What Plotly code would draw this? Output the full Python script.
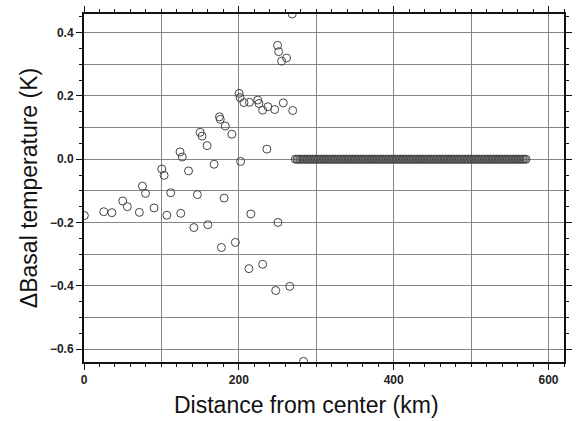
import plotly.graph_objects as go

# Scattered points (distance km, delta basal temperature K)
dist_scatter = [0.5, 25.5, 36, 50, 56, 71.5, 75.5, 79.5, 90.5, 100.5, 103.5, 107, 112,
                124, 127, 125, 135, 142, 146.5, 150, 152.5, 159, 160, 168, 175, 176,
                177.5, 181, 182.5, 191, 195.5, 200.3, 201.5, 202.3, 206.6, 213, 213.7,
                215.5, 224.4, 226, 230.7, 230.7, 236.2, 237.5, 246.3, 247.6, 250, 250.5,
                251.4, 255.2, 257.4, 261.6, 265.8, 269, 269.6, 283.6]
dtemp_scatter = [-0.178, -0.166, -0.169, -0.132, -0.150, -0.168, -0.085, -0.108, -0.154,
                 -0.031, -0.051, -0.177, -0.106, 0.023, 0.007, -0.171, -0.037, -0.216,
                 -0.112, 0.085, 0.073, 0.043, -0.207, -0.016, 0.134, 0.126, -0.279, -0.123,
                 0.105, 0.079, -0.263, 0.208, 0.195, -0.007, 0.179, -0.346, 0.180, -0.173,
                 0.187, 0.176, 0.155, -0.332, 0.032, 0.166, 0.157, -0.415, 0.36, -0.200,
                 0.34, 0.31, 0.178, 0.32, -0.402, 0.459, 0.154, -0.639]

# Outer points with zero change
dist_zero = [273, 275, 277, 279, 281, 283, 285, 287, 289, 291, 293, 295, 297, 299, 301,
             303, 305, 307, 309, 311, 313, 315, 317, 319, 321, 323, 325, 327, 329, 331,
             333, 335, 337, 339, 341, 343, 345, 347, 349, 351, 353, 355, 357, 359, 361,
             363, 365, 367, 369, 371, 373, 375, 377, 379, 381, 383, 385, 387, 389, 391,
             393, 395, 397, 399, 401, 403, 405, 407, 409, 411, 413, 415, 417, 419, 421,
             423, 425, 427, 429, 431, 433, 435, 437, 439, 441, 443, 445, 447, 449, 451,
             453, 455, 457, 459, 461, 463, 465, 467, 469, 471, 473, 475, 477, 479, 481,
             483, 485, 487, 489, 491, 493, 495, 497, 499, 501, 503, 505, 507, 509, 511,
             513, 515, 517, 519, 521, 523, 525, 527, 529, 531, 533, 535, 537, 539, 541,
             543, 545, 547, 549, 551, 553, 555, 557, 559, 561, 563, 565, 567, 569, 571]
dtemp_zero = [0.0] * len(dist_zero)

x_range = [0, 620]
y_range = [-0.641, 0.459]

marker = dict(symbol="circle-open", size=8, color="#454545", line=dict(width=1))

fig = go.Figure()
# invisible trace to create gridline overlay axes
fig.add_trace(go.Scatter(x=[None], y=[None], xaxis="x2", yaxis="y2",
                         mode="markers", showlegend=False, hoverinfo="skip"))
fig.add_trace(go.Scatter(x=dist_scatter + dist_zero, y=dtemp_scatter + dtemp_zero,
                         mode="markers", marker=marker, showlegend=False))

tickfont = dict(family="Liberation Sans", size=12, color="#222", weight="bold")
fig.update_layout(
    width=578, height=421,
    margin=dict(l=84, r=6, t=14, b=59),
    paper_bgcolor="white", plot_bgcolor="white",
    xaxis=dict(range=x_range, dtick=200, tick0=0, ticks="outside", ticklen=6,
               tickwidth=1.2, tickcolor="#111", showgrid=False, zeroline=False,
               showline=True, linecolor="#111", linewidth=2, mirror="ticks",
               tickfont=tickfont,
               minor=dict(dtick=20, ticks="outside", ticklen=3, tickcolor="#111",
                          tickwidth=1, showgrid=False)),
    yaxis=dict(range=y_range, dtick=0.2, tick0=0, ticks="outside", ticklen=6,
               tickwidth=1.2, tickcolor="#111", showgrid=False, zeroline=False,
               showline=True, linecolor="#111", linewidth=2, mirror="ticks",
               tickformat=".1f", tickfont=tickfont,
               minor=dict(dtick=0.05, ticks="outside", ticklen=3, tickcolor="#111",
                          tickwidth=1, showgrid=False),
               title=dict(text="ΔBasal temperature (K)", standoff=6,
                          font=dict(family="Liberation Sans", size=23, color="#111"))),
    xaxis2=dict(range=x_range, overlaying="x", dtick=100, tick0=0, showgrid=True,
                gridcolor="#858585", gridwidth=1.3, showticklabels=False, ticks="",
                zeroline=False, showline=False, side="bottom"),
    yaxis2=dict(range=y_range, overlaying="y", dtick=0.1, tick0=0, showgrid=True,
                gridcolor="#858585", gridwidth=1.3, showticklabels=False, ticks="",
                zeroline=False, showline=False, side="left"),
    annotations=[dict(text="Distance from center (km)", xref="paper", yref="paper",
                      x=0.463, y=-0.1236, xanchor="center", yanchor="middle",
                      showarrow=False,
                      font=dict(family="Liberation Sans", size=23, color="#111"))],
)

fig.write_html("out.html")
